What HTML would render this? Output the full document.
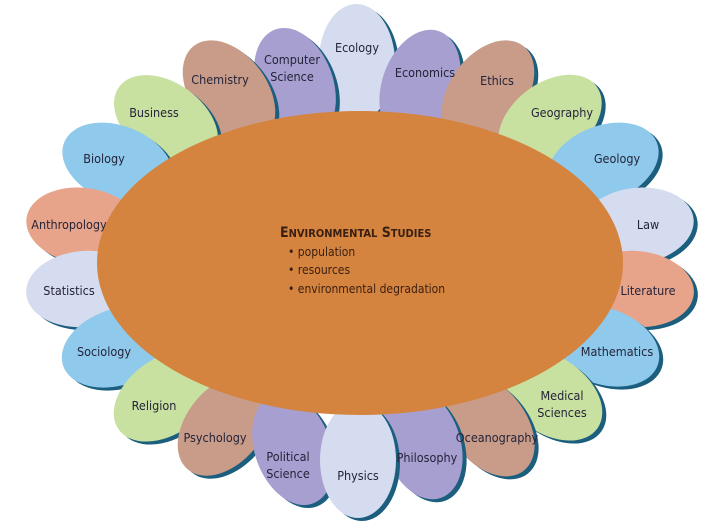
<!DOCTYPE html>
<html><head><meta charset="utf-8"><style>
html,body{margin:0;padding:0;background:#fff}
svg{display:block}
text{font-family:"DejaVu Sans Condensed","Liberation Sans Narrow","Liberation Sans",sans-serif;fill:#24243a;font-size:12.5px}
.s{fill:#1b5e7e}
</style></head><body>
<svg width="722" height="528" viewBox="0 0 722 528" xmlns="http://www.w3.org/2000/svg">
<g>
<ellipse class="s" transform="translate(4,3) translate(357,62) rotate(-1)" rx="38" ry="58"/><ellipse transform="translate(357,62) rotate(-1)" rx="38" ry="58" fill="#d6dcef"/>
<ellipse class="s" transform="translate(4,3) translate(295,84) rotate(-20)" rx="38" ry="58"/><ellipse transform="translate(295,84) rotate(-20)" rx="38" ry="58" fill="#a69fd0"/>
<ellipse class="s" transform="translate(4,3) translate(420,86) rotate(19)" rx="38" ry="58"/><ellipse transform="translate(420,86) rotate(19)" rx="38" ry="58" fill="#a69fd0"/>
<ellipse class="s" transform="translate(4,3) translate(229,92) rotate(-37)" rx="38" ry="58"/><ellipse transform="translate(229,92) rotate(-37)" rx="38" ry="58" fill="#c89c88"/>
<ellipse class="s" transform="translate(4,3) translate(488,92) rotate(37)" rx="38" ry="58"/><ellipse transform="translate(488,92) rotate(37)" rx="38" ry="58" fill="#c89c88"/>
<ellipse class="s" transform="translate(4,3) translate(166,121) rotate(-54)" rx="38" ry="58"/><ellipse transform="translate(166,121) rotate(-54)" rx="38" ry="58" fill="#c9e1a0"/>
<ellipse class="s" transform="translate(4,3) translate(550,121) rotate(53)" rx="38" ry="58"/><ellipse transform="translate(550,121) rotate(53)" rx="38" ry="58" fill="#c9e1a0"/>
<ellipse class="s" transform="translate(4,3) translate(118,164) rotate(-68)" rx="38" ry="58"/><ellipse transform="translate(118,164) rotate(-68)" rx="38" ry="58" fill="#8fc9ec"/>
<ellipse class="s" transform="translate(4,3) translate(603,164) rotate(68)" rx="38" ry="58"/><ellipse transform="translate(603,164) rotate(68)" rx="38" ry="58" fill="#8fc9ec"/>
<ellipse class="s" transform="translate(4,3) translate(84,226) rotate(-82)" rx="38" ry="58"/><ellipse transform="translate(84,226) rotate(-82)" rx="38" ry="58" fill="#e8a48a"/>
<ellipse class="s" transform="translate(4,3) translate(636,226) rotate(82)" rx="38" ry="58"/><ellipse transform="translate(636,226) rotate(82)" rx="38" ry="58" fill="#d6dcef"/>
<ellipse class="s" transform="translate(4,3) translate(84,289) rotate(-95)" rx="38" ry="58"/><ellipse transform="translate(84,289) rotate(-95)" rx="38" ry="58" fill="#d6dcef"/>
<ellipse class="s" transform="translate(4,3) translate(636,289) rotate(95)" rx="38" ry="58"/><ellipse transform="translate(636,289) rotate(95)" rx="38" ry="58" fill="#e8a48a"/>
<ellipse class="s" transform="translate(4,3) translate(118,347) rotate(-109)" rx="38" ry="58"/><ellipse transform="translate(118,347) rotate(-109)" rx="38" ry="58" fill="#8fc9ec"/>
<ellipse class="s" transform="translate(4,3) translate(603,346) rotate(109)" rx="38" ry="58"/><ellipse transform="translate(603,346) rotate(109)" rx="38" ry="58" fill="#8fc9ec"/>
<ellipse class="s" transform="translate(4,3) translate(166,396) rotate(-125)" rx="38" ry="58"/><ellipse transform="translate(166,396) rotate(-125)" rx="38" ry="58" fill="#c9e1a0"/>
<ellipse class="s" transform="translate(4,3) translate(550,395) rotate(125)" rx="38" ry="58"/><ellipse transform="translate(550,395) rotate(125)" rx="38" ry="58" fill="#c9e1a0"/>
<ellipse class="s" transform="translate(4,3) translate(225,425) rotate(-140)" rx="38" ry="58"/><ellipse transform="translate(225,425) rotate(-140)" rx="38" ry="58" fill="#c89c88"/>
<ellipse class="s" transform="translate(4,3) translate(488,425) rotate(142)" rx="38" ry="58"/><ellipse transform="translate(488,425) rotate(142)" rx="38" ry="58" fill="#c89c88"/>
<ellipse class="s" transform="translate(4,3) translate(293,449) rotate(160)" rx="38" ry="58"/><ellipse transform="translate(293,449) rotate(160)" rx="38" ry="58" fill="#a69fd0"/>
<ellipse class="s" transform="translate(4,3) translate(422,443) rotate(161)" rx="38" ry="58"/><ellipse transform="translate(422,443) rotate(161)" rx="38" ry="58" fill="#a69fd0"/>
<ellipse class="s" transform="translate(4,3) translate(358,460) rotate(180)" rx="38" ry="58"/><ellipse transform="translate(358,460) rotate(180)" rx="38" ry="58" fill="#d6dcef"/>
</g>
<ellipse cx="360" cy="263" rx="263" ry="152" fill="#d4843e"/>
<g text-anchor="middle">
<text x="357" y="52">Ecology</text>
<text x="292" y="64">Computer</text><text x="292" y="81">Science</text>
<text x="425" y="77">Economics</text>
<text x="220" y="84">Chemistry</text>
<text x="497" y="85">Ethics</text>
<text x="154" y="117">Business</text>
<text x="562" y="117">Geography</text>
<text x="104" y="163">Biology</text>
<text x="617" y="163">Geology</text>
<text x="69" y="229">Anthropology</text>
<text x="648" y="229">Law</text>
<text x="69" y="295">Statistics</text>
<text x="648" y="295">Literature</text>
<text x="104" y="356">Sociology</text>
<text x="617" y="356">Mathematics</text>
<text x="154" y="410">Religion</text>
<text x="562" y="400">Medical</text><text x="562" y="417">Sciences</text>
<text x="215" y="442">Psychology</text>
<text x="497" y="442">Oceanography</text>
<text x="427" y="462">Philosophy</text>
<text x="288" y="461">Political</text><text x="288" y="478">Science</text>
<text x="358" y="480">Physics</text>
</g>
<text x="280" y="237" style="font-weight:bold;font-size:14px;fill:#3a1f12"><tspan>E</tspan><tspan style="font-size:11px">NVIRONMENTAL</tspan><tspan> S</tspan><tspan style="font-size:11px">TUDIES</tspan></text>
<text x="288" y="256" style="fill:#3a1f12;font-size:12px">• population</text>
<text x="288" y="274" style="fill:#3a1f12;font-size:12px">• resources</text>
<text x="288" y="293" style="fill:#3a1f12;font-size:12px">• environmental degradation</text>
</svg>
</body></html>
